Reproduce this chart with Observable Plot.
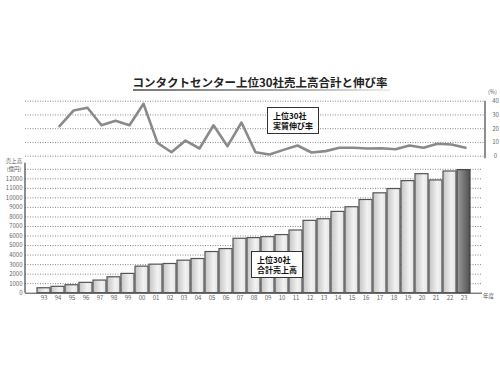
<!DOCTYPE html>
<html><head><meta charset="utf-8">
<script src="https://cdn.jsdelivr.net/npm/d3@7"></script>
<script src="https://cdn.jsdelivr.net/npm/@observablehq/plot@0.6"></script>
<style>
body{margin:0;background:#fff;font-family:"Noto Sans CJK JP","Noto Sans",sans-serif;}
#wrap{position:relative;width:500px;height:375px;overflow:hidden;background:#fff;}
.abs{position:absolute;}
#title{left:0;width:520px;top:75px;text-align:center;font-size:11.5px;font-weight:bold;color:#222;line-height:14px;}
#uline{left:133px;top:88.5px;width:257px;height:2px;background:linear-gradient(to right,#777,#aaa 60%,#eee);}
.box{background:#fff;border:1px solid #333;font-size:8px;font-weight:bold;line-height:10px;padding:2.5px 5px 2.5px 5px;color:#111;white-space:nowrap;}
.small{font-size:5.5px;color:#555;line-height:8px;}
svg{position:absolute;left:0;background:transparent !important;}
</style></head><body><div id="wrap">
<div class="abs" id="title"></div>
<div class="abs" id="uline"></div>
</div>
<script>
const years = ["93","94","95","96","97","98","99","00","01","02","03","04","05","06","07","08","09","10","11","12","13","14","15","16","17","18","19","20","21","22","23"];
const sales = [520,670,835,1085,1325,1670,2025,2787,2996,3065,3413,3587,4320,4630,5710,5780,5880,6100,6580,7590,7760,8530,9020,9780,10480,10930,11760,12490,11830,12770,12910];
const growthYears = years.slice(1);
const growth = [21.8,33.2,35.2,22.5,25.7,22.5,38.1,9.7,2.9,11.4,5.6,22.5,7.3,24.5,2.9,1.2,4.6,7.8,2.7,3.7,6.1,6.1,5.6,5.8,5.1,7.8,6.1,9.0,8.5,6.1];
const salesTicks = [0,1000,2000,3000,4000,5000,6000,7000,8000,9000,10000,11000,12000];
const salesGrid = [1000,2000,3000,4000,5000,6000,7000,8000,9000,10000,11000,12000,13000];
const growthTicks = [0,10,20,30,40];
const titleText = "コンタクトセンター上位30社売上高合計と伸び率";
const growthLabel = ["上位30社","実質伸び率"];
const salesLabel = ["上位30社","合計売上高"];
const salesUnit = ["売上高","(億円)"];
const pctUnit = "(%)";
const yearUnit = "年度";

const salesData = years.map((y,i)=>({year:y, v:sales[i]}));
const growthData = growthYears.map((y,i)=>({year:y, v:growth[i]}));
const lastYear = years[years.length-1];

const NS = "http://www.w3.org/2000/svg";
function el(name, attrs){const e=document.createElementNS(NS,name);for(const k in attrs)e.setAttribute(k,attrs[k]);return e;}
const defsMark = () => {
  const defs = el("defs",{});
  const g1 = el("linearGradient",{id:"gBar",x1:"0",x2:"1",y1:"0",y2:"0"});
  [["0%","#c4c4c4"],["65%","#f2f2f2"],["100%","#e2e2e2"]].forEach(([o,c])=>g1.appendChild(el("stop",{offset:o,"stop-color":c})));
  const g2 = el("linearGradient",{id:"gLast",x1:"0",x2:"1",y1:"0",y2:"0"});
  [["0%","#9c9c9c"],["100%","#505050"]].forEach(([o,c])=>g2.appendChild(el("stop",{offset:o,"stop-color":c})));
  defs.appendChild(g1); defs.appendChild(g2);
  return defs;
};
const vLine = (side, extTop, extBot) => (index, scales, values, d) => {
  const x = side === "left" ? d.marginLeft : d.width - d.marginRight;
  return el("line",{x1:x,x2:x,y1:d.marginTop-extTop,y2:d.height-d.marginBottom+extBot,stroke:"#444","stroke-width":1.2});
};

const font = {fontFamily:'"Noto Sans CJK JP","Noto Sans",sans-serif', fontSize:"6px", color:"#666", background:"transparent"};

const topChart = Plot.plot({
  width:500, height:70, marginTop:10.7, marginBottom:4.3, marginLeft:25, marginRight:15,
  style:font,
  x:{type:"point", domain:years, padding:0.83, axis:null, label:null},
  y:{domain:[0,40], label:null},
  marks:[
    Plot.gridY(growthTicks,{stroke:"#888",strokeOpacity:1,strokeDasharray:"1,1.5"}),
    Plot.axisY({anchor:"right", ticks:growthTicks, tickSize:0, tickPadding:10, textAnchor:"middle", label:null, fill:"#666"}),
    vLine("right",0,2.5),
    Plot.lineY(growthData,{x:"year", y:"v", stroke:"#8a8a8a", strokeWidth:2.6})
  ]
});
topChart.style.top = "90px";

const bottomChart = Plot.plot({
  width:500, height:150, marginTop:13.8, marginBottom:12.3, marginLeft:25, marginRight:18,
  style:font,
  x:{type:"band", domain:years, paddingInner:0.1, paddingOuter:0.31, label:null},
  y:{domain:[0,13000], label:null},
  marks:[
    defsMark,
    Plot.gridY(salesGrid,{stroke:"#888",strokeOpacity:1,strokeDasharray:"1,1.5"}),
    Plot.axisY({ticks:salesTicks, tickSize:0, tickPadding:3, tickFormat:d=>String(d), label:null, fill:"#666"}),
    Plot.axisX({tickSize:0, tickPadding:2.5, label:null, fill:"#666"}),
    Plot.barY(salesData.filter(d=>d.year!==lastYear),{x:"year", y:"v", fill:"url(#gBar)", stroke:"#555", strokeWidth:1.2}),
    Plot.barY(salesData.filter(d=>d.year===lastYear),{x:"year", y:"v", fill:"url(#gLast)", stroke:"#444", strokeWidth:1.2}),
    Plot.ruleY([0],{stroke:"#444", strokeWidth:1}),
    vLine("left",6,0)
  ]
});
bottomChart.style.top = "155px";

const wrap = document.getElementById("wrap");
wrap.appendChild(bottomChart);
wrap.appendChild(topChart);
document.getElementById("title").textContent = titleText;

function addDiv(cls, css, lines){
  const d = document.createElement("div");
  d.className = "abs " + cls;
  Object.assign(d.style, css);
  lines.forEach((t,i)=>{ if(i) d.appendChild(document.createElement("br")); d.appendChild(document.createTextNode(t)); });
  wrap.appendChild(d);
  return d;
}
addDiv("box",{left:"267px",top:"107px"},growthLabel);
addDiv("box",{left:"251px",top:"251px"},salesLabel);
addDiv("small",{left:"5px",top:"157px",textAlign:"center",width:"18px"},salesUnit);
addDiv("small",{left:"488px",top:"88px"},[pctUnit]);
addDiv("small",{left:"483px",top:"292px"},[yearUnit]);
</script></body></html>
